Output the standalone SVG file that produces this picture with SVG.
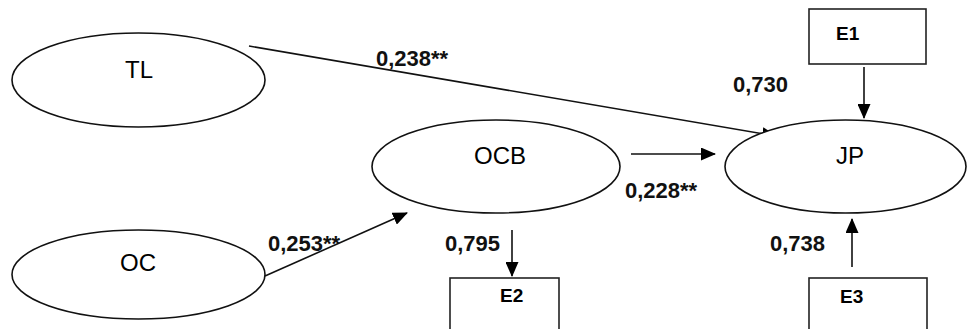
<svg xmlns="http://www.w3.org/2000/svg" width="967" height="329" viewBox="0 0 967 329">
<style>
.node{fill:#fff;stroke:#111;stroke-width:1.6}
.box{fill:#fff;stroke:#222;stroke-width:1.6}
.lbl{font-family:"Liberation Sans",Arial,sans-serif;font-size:24px;fill:#000;text-anchor:middle}
.coef{font-family:"Liberation Sans",Arial,sans-serif;font-size:22px;font-weight:bold;fill:#111}
.etxt{font-family:"Liberation Sans",Arial,sans-serif;font-size:19px;font-weight:bold;fill:#000}
.conn{stroke:#111;stroke-width:1.6;fill:none;marker-end:url(#ah)}
</style>
<defs>
<marker id="ah" markerUnits="userSpaceOnUse" markerWidth="15" markerHeight="13" refX="14" refY="6.5" orient="auto" viewBox="0 0 15 13">
<path d="M0,0 L15,6.5 L0,13 z" fill="#000"/>
</marker>
</defs>
<rect width="967" height="329" fill="#fff"/>
<g id="connectors">
<line class="conn" x1="249" y1="46" x2="776" y2="136"/>
<line class="conn" x1="265" y1="276" x2="407" y2="213"/>
<line class="conn" x1="631" y1="154" x2="715" y2="154"/>
<line class="conn" x1="864" y1="67" x2="864" y2="118"/>
<line class="conn" x1="512" y1="230" x2="512" y2="276"/>
<line class="conn" x1="852" y1="267" x2="852" y2="219"/>
</g>
<g id="TL">
<ellipse class="node" cx="138.5" cy="80" rx="126.5" ry="47"/>
<text class="lbl" x="139" y="78">TL</text>
</g>
<g id="OC">
<ellipse class="node" cx="138.5" cy="274.5" rx="126.5" ry="44.5"/>
<text class="lbl" x="138" y="271">OC</text>
</g>
<g id="OCB">
<ellipse class="node" cx="496" cy="166.5" rx="124" ry="46.5"/>
<text class="lbl" x="500" y="164">OCB</text>
</g>
<g id="JP">
<ellipse class="node" cx="845.5" cy="166.5" rx="120.5" ry="46.5"/>
<text class="lbl" x="850" y="164">JP</text>
</g>
<g id="E1">
<rect class="box" x="809" y="9" width="117" height="55"/>
<text class="etxt" x="836" y="40">E1</text>
</g>
<g id="E2">
<rect class="box" x="450" y="278" width="109" height="70"/>
<text class="etxt" x="500" y="302">E2</text>
</g>
<g id="E3">
<rect class="box" x="809" y="278" width="118" height="70"/>
<text class="etxt" x="840" y="303">E3</text>
</g>
<g id="labels">
<text class="coef" x="376" y="66">0,238**</text>
<text class="coef" x="733" y="92">0,730</text>
<text class="coef" x="625" y="198">0,228**</text>
<text class="coef" x="268" y="251">0,253**</text>
<text class="coef" x="445" y="251">0,795</text>
<text class="coef" x="770" y="251">0,738</text>
</g>
</svg>
